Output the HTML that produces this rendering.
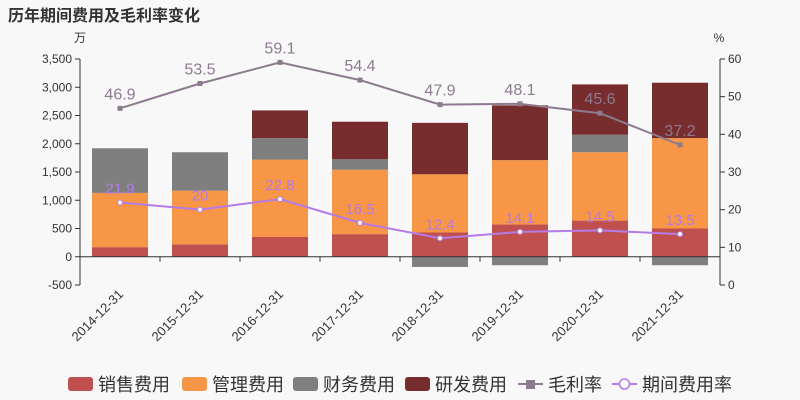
<!DOCTYPE html>
<html><head><meta charset="utf-8"><style>
body{margin:0;background:#f8f8f8;font-family:"Liberation Sans","Noto Sans CJK SC",sans-serif}
svg{display:block}
</style></head><body>
<svg id="c" width="800" height="400" font-family="Liberation Sans, Noto Sans CJK SC, sans-serif">
<rect width="800" height="400" fill="#f8f8f8"/>
<text x="8" y="21" font-size="16" font-weight="bold" fill="#333">历年期间费用及毛利率变化</text>
<text x="80" y="42" font-size="12" fill="#333" text-anchor="middle">万</text>
<text x="719" y="42" font-size="12" fill="#333" text-anchor="middle">%</text>
<g id="g"></g>
</svg>
<script>
const categories=["2014-12-31","2015-12-31","2016-12-31","2017-12-31","2018-12-31","2019-12-31","2020-12-31","2021-12-31"];
const sales=[170,220,350,400,430,570,640,500];
const mgmt=[960,950,1370,1140,1030,1140,1210,1600];
const finance=[790,680,380,190,-180,-150,310,-150];
const rd=[0,0,490,660,910,970,890,980];
const grossMargin=[46.9,53.5,59.1,54.4,47.9,48.1,45.6,37.2];
const periodRate=[21.9,20,22.8,16.5,12.4,14.1,14.5,13.5];
const leftTicks=[-500,0,500,1000,1500,2000,2500,3000,3500];
const rightTicks=[0,10,20,30,40,50,60];

const NS="http://www.w3.org/2000/svg";
const g=document.getElementById('g');
function el(t,a,txt){const e=document.createElementNS(NS,t);for(const k in a)e.setAttribute(k,a[k]);if(txt!=null)e.textContent=txt;g.appendChild(e);return e;}
const L=80,R=720,T=59,B=285;
const yL=v=>B-(v+500)/4000*(B-T);
const yR=v=>B-v/60*(B-T);
const band=(R-L)/categories.length;
const xC=i=>L+band*(i+0.5);
const bw=56;

leftTicks.forEach(v=>{
  let e=el('line',{x1:L-5,x2:L,y1:yL(v),y2:yL(v),stroke:'#333','stroke-width':1});
  
  e=el('text',{x:L-8,y:yL(v)+4,'font-size':12,fill:'#333','text-anchor':'end'},v.toLocaleString('en-US'));
  
});
rightTicks.forEach(v=>{
  let e=el('line',{x1:R,x2:R+5,y1:yR(v),y2:yR(v),stroke:'#333','stroke-width':1});
  
  e=el('text',{x:R+8,y:yR(v)+4,'font-size':12,fill:'#333'},v);
  
});
let ax=el('line',{x1:L,x2:L,y1:T,y2:B,stroke:'#333'});
ax=el('line',{x1:R,x2:R,y1:T,y2:B,stroke:'#333'});

const series=[[sales,'#c0504d','bar-sales'],[mgmt,'#f79646','bar-management'],[finance,'#7f7f7f','bar-finance'],[rd,'#772c2d','bar-rd']];
categories.forEach((c,i)=>{
  let pos=0,neg=0;
  series.forEach(([arr,col,nm])=>{
    const v=arr[i];if(!v)return;
    let y0,y1;
    if(v>=0){y0=pos;y1=pos+v;pos=y1;}else{y0=neg;y1=neg+v;neg=y1;}
    const top=yL(Math.max(y0,y1)),bot=yL(Math.min(y0,y1));
    const e=el('rect',{x:xC(i)-bw/2,y:top,width:bw,height:bot-top,fill:col});
    
  });
});
ax=el('line',{x1:L,x2:R,y1:yL(0),y2:yL(0),stroke:'#333'});
categories.forEach((c,i)=>{
  let e=el('line',{x1:L+band*i,x2:L+band*i,y1:yL(0),y2:yL(0)+5,stroke:'#333'});
  
  const x=xC(i)+4,y=B+10;
  e=el('text',{x:x,y:y,'font-size':13,fill:'#333','text-anchor':'end',transform:`rotate(-45 ${x} ${y})`},c);
  
});
el('line',{x1:R,x2:R,y1:yL(0),y2:yL(0)+5,stroke:'#333'});

function line(arr,col,nm,lblCol,fs,dot){
  const p=el('polyline',{points:arr.map((v,i)=>xC(i)+','+yR(v)).join(' '),fill:'none',stroke:col,'stroke-width':2});
  
  arr.forEach((v,i)=>{
    let e=dot?el('circle',{cx:xC(i),cy:yR(v),r:2.5,fill:'#fff',stroke:col,'stroke-width':1}):el('rect',{x:xC(i)-2.5,y:yR(v)-2.5,width:5,height:5,fill:col});
    
    e=el('text',{x:xC(i),y:yR(v)-9,'font-size':fs,fill:lblCol,'text-anchor':'middle'},v);
    
  });
}
line(grossMargin,'#8c7b8e','gross-margin','#8c7b8e',16,false);
line(periodRate,'#b57be8','period-rate','#b57be8',15,true);

const leg=[['销售费用','#c0504d','legend-sales',68],['管理费用','#f79646','legend-management',182],['财务费用','#7f7f7f','legend-finance',293],['研发费用','#772c2d','legend-rd',405]];
leg.forEach(([t,c,n,x])=>{
  let e=el('rect',{x:x,y:377,width:25,height:14,rx:3,fill:c});
  e=el('text',{x:x+30,y:391,'font-size':18,fill:'#333'},t);
});
let e=el('line',{x1:518,x2:543,y1:384,y2:384,stroke:'#8c7b8e','stroke-width':2});
el('rect',{x:526,y:380,width:9,height:9,fill:'#8c7b8e'});
e=el('text',{x:548,y:391,'font-size':18,fill:'#333'},'毛利率');
e=el('line',{x1:612,x2:637,y1:384,y2:384,stroke:'#b57be8','stroke-width':2});
el('circle',{cx:624.5,cy:384,r:5,fill:'#fff',stroke:'#b57be8','stroke-width':1.5});
e=el('text',{x:642,y:391,'font-size':18,fill:'#333'},'期间费用率');
</script>
</body></html>
